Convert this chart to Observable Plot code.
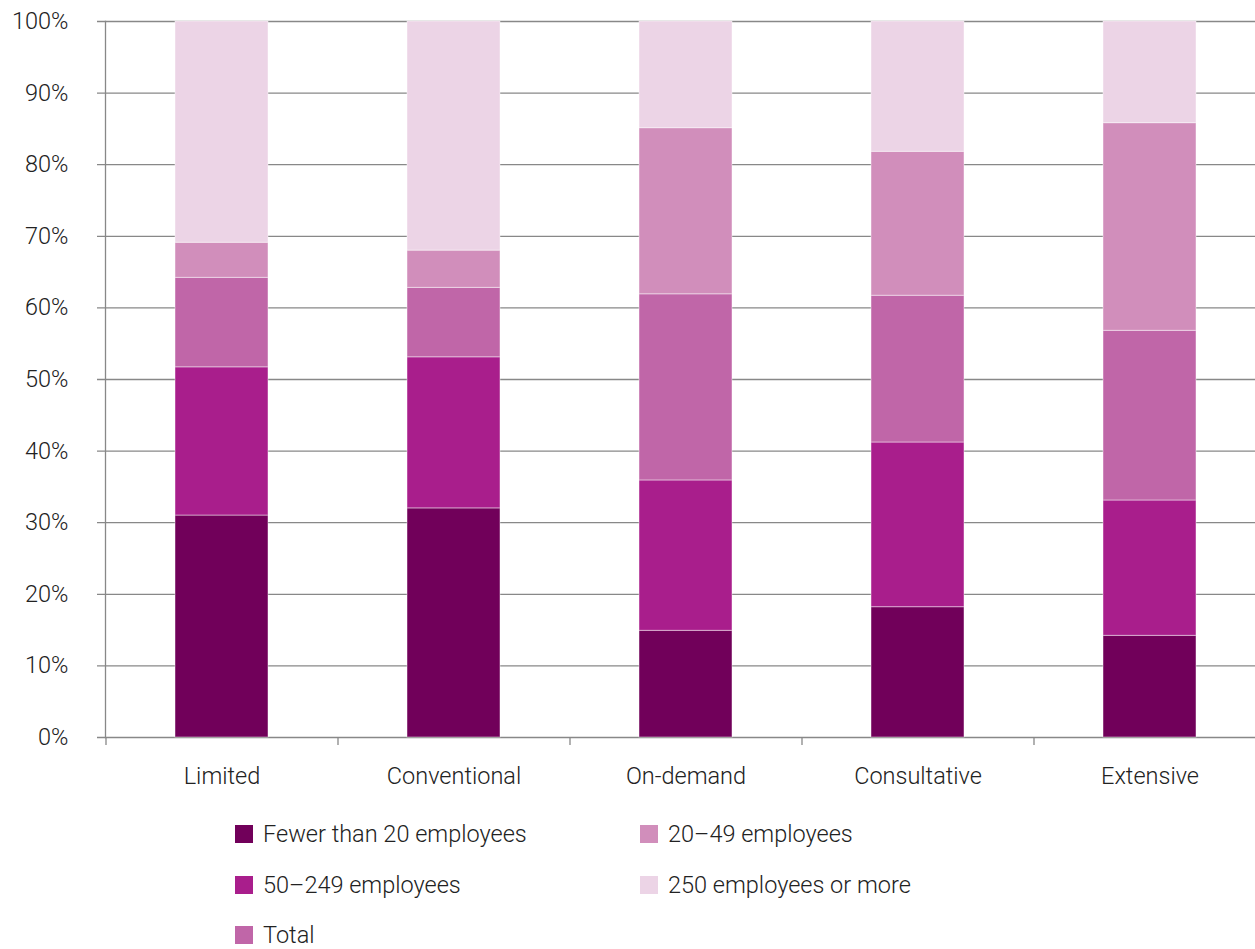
<!DOCTYPE html>
<html><head><meta charset="utf-8">
<script src="https://cdn.jsdelivr.net/npm/d3@7"></script>
<script src="https://cdn.jsdelivr.net/npm/@observablehq/plot@0.6"></script>
<style>
body{margin:0;background:#fff;font-family:Roboto,"Liberation Sans",sans-serif;font-weight:300;color:#222;}
#wrap{position:relative;width:1255px;height:949px;overflow:hidden;}
#legend{position:absolute;left:235px;top:824px;display:grid;grid-template-columns:405px 400px;grid-auto-rows:50.5px;font-size:23.5px;}
.item{display:flex;align-items:center;height:20px;line-height:20px;white-space:nowrap;}
.sw{width:18px;height:18px;margin-right:10px;flex:none;}
</style></head>
<body><div id="wrap"><div id="chart"></div><div id="legend"></div></div>
<script>
const categories = ["Limited","Conventional","On-demand","Consultative","Extensive"];
const stackSeries = ["Fewer than 20 employees","50–249 employees","Total","20–49 employees","250 employees or more"];
const legendOrder = ["Fewer than 20 employees","20–49 employees","50–249 employees","250 employees or more","Total"];
const colors = ["#71005a","#a91e8c","#c066a8","#d18ebb","#ecd4e6"];
const fewer20   = [31.0, 32.0, 14.9, 18.2, 14.2];
const emp50_249 = [20.7, 21.1, 21.0, 23.0, 18.9];
const total     = [12.5,  9.7, 26.0, 20.5, 23.7];
const emp20_49  = [ 4.9,  5.2, 23.2, 20.1, 29.0];
const emp250    = [30.9, 32.0, 14.9, 18.2, 14.2];
const yTicks = [0,10,20,30,40,50,60,70,80,90,100];

const seriesValues = [fewer20, emp50_249, total, emp20_49, emp250];
const data = [];
categories.forEach((c, i) => {
  stackSeries.forEach((s, j) => data.push({category: c, series: s, value: seriesValues[j][i]}));
});

const chart = Plot.plot({
  width: 1255, height: 800,
  marginLeft: 105, marginRight: 0, marginTop: 21, marginBottom: 63,
  style: {fontFamily: 'Roboto,"Liberation Sans",sans-serif', fontWeight: 300, fontSize: "23.5px", color: "#222", background: "#fff"},
  x: {domain: categories, range: [105, 1265], paddingInner: 0.6, paddingOuter: 0.3, label: null},
  y: {domain: [0, 100], label: null},
  color: {domain: stackSeries, range: colors},
  marks: [
    Plot.ruleY(yTicks, {stroke: "#888", strokeWidth: 1.3, insetLeft: -8}),
    Plot.barY(data, {x: "category", y: "value", fill: "series", stroke: "#fff", strokeOpacity: 0.45, strokeWidth: 1}),
    Plot.axisX({tickSize: 8, dx: -116, tickFormat: () => "", stroke: "#888", strokeWidth: 1.3}),
    Plot.axisX({tickSize: 0, tickPadding: 30, fontSize: 23.5}),
    Plot.axisY({ticks: yTicks, tickFormat: d => d + "%", tickSize: 0, tickPadding: 37, fontSize: 23.5}),
    Plot.frame({anchor: "left", stroke: "#888", strokeWidth: 1.3})
  ]
});
document.getElementById("chart").appendChild(chart);

const legend = document.getElementById("legend");
legendOrder.forEach(s => {
  const it = document.createElement("div");
  it.className = "item";
  const sw = document.createElement("span");
  sw.className = "sw";
  sw.style.background = colors[stackSeries.indexOf(s)];
  it.appendChild(sw);
  const t = document.createElement("span");
  t.textContent = s;
  it.appendChild(t);
  legend.appendChild(it);
});
</script></body></html>
